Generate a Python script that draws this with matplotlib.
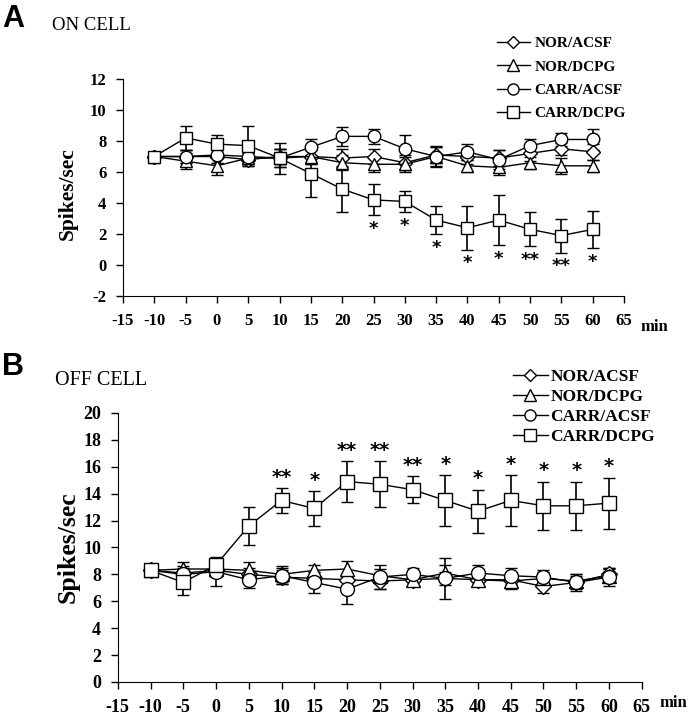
import matplotlib
matplotlib.use("Agg")
import matplotlib.pyplot as plt
from matplotlib.lines import Line2D

plt.rcParams["font.family"] = ["Liberation Serif", "DejaVu Serif"]
plt.rcParams["font.weight"] = "bold"
plt.rcParams["axes.unicode_minus"] = False

# time points (min)
t = [-10, -5, 0, 5, 10, 15, 20, 25, 30, 35, 40, 45, 50, 55, 60]
labels = ["NOR/ACSF", "NOR/DCPG", "CARR/ACSF", "CARR/DCPG"]
markers = ["D", "^", "o", "s"]

# panel A: ON cell
a_nor_acsf = [7.0, 7.0, 7.0, 6.8, 7.0, 7.0, 6.9, 7.0, 6.6, 7.1, 7.0, 6.9, 7.2, 7.5, 7.3]
a_nor_acsf_err = [0.3, 0.4, 0.4, 0.4, 0.5, 0.5, 0.6, 0.5, 0.5, 0.5, 0.5, 0.5, 0.5, 0.4, 0.5]
a_nor_dcpg = [7.0, 6.7, 6.4, 6.9, 6.9, 7.0, 6.6, 6.5, 6.5, 7.0, 6.4, 6.3, 6.6, 6.4, 6.4]
a_nor_dcpg_err = [0.3, 0.5, 0.6, 0.4, 0.6, 0.5, 0.5, 0.5, 0.5, 0.6, 0.4, 0.5, 0.4, 0.5, 0.4]
a_carr_acsf = [7.0, 7.0, 7.1, 7.0, 6.9, 7.6, 8.3, 8.3, 7.5, 7.0, 7.3, 6.8, 7.7, 8.1, 8.1]
a_carr_acsf_err = [0.3, 0.4, 0.5, 0.5, 0.6, 0.5, 0.6, 0.5, 0.9, 0.7, 0.5, 0.6, 0.4, 0.4, 0.7]
a_carr_dcpg = [7.0, 8.2, 7.8, 7.7, 6.9, 5.9, 4.9, 4.2, 4.1, 2.9, 2.4, 2.9, 2.3, 1.9, 2.3]
a_carr_dcpg_err = [0.3, 0.8, 0.6, 1.3, 1.0, 1.5, 1.5, 1.0, 0.7, 0.9, 1.4, 1.6, 1.1, 1.1, 1.2]
a_stars = ["", "", "", "", "", "", "", "*", "*", "*", "*", "*", "**", "**", "*"]

# panel B: OFF cell
b_nor_acsf = [8.3, 8.1, 8.3, 8.0, 7.8, 7.7, 7.6, 7.5, 7.6, 7.7, 7.6, 7.6, 7.1, 7.4, 8.0]
b_nor_acsf_err = [0.4, 0.5, 0.5, 0.5, 0.5, 0.5, 0.5, 0.6, 0.5, 0.5, 0.5, 0.5, 0.5, 0.5, 0.5]
b_nor_dcpg = [8.3, 8.4, 8.4, 8.3, 8.0, 8.3, 8.4, 7.9, 7.6, 8.1, 7.6, 7.5, 7.7, 7.5, 7.9]
b_nor_dcpg_err = [0.4, 0.5, 0.5, 0.6, 0.6, 0.4, 0.6, 0.5, 0.5, 0.6, 0.5, 0.6, 0.5, 0.5, 0.5]
b_carr_acsf = [8.3, 8.0, 8.2, 7.6, 7.9, 7.4, 6.9, 7.8, 8.0, 7.7, 8.1, 7.9, 7.8, 7.4, 7.8]
b_carr_acsf_err = [0.4, 0.5, 1.1, 0.6, 0.6, 0.8, 1.1, 0.9, 0.5, 1.5, 0.6, 0.6, 0.5, 0.6, 0.7]
b_carr_dcpg = [8.3, 7.4, 8.7, 11.6, 13.5, 12.9, 14.9, 14.7, 14.3, 13.5, 12.7, 13.5, 13.1, 13.1, 13.3]
b_carr_dcpg_err = [0.3, 0.9, 0.5, 1.4, 0.9, 1.3, 1.5, 1.7, 1.0, 1.9, 1.6, 1.9, 1.8, 1.8, 1.9]
b_stars = ["", "", "", "", "**", "*", "**", "**", "**", "*", "*", "*", "*", "*", "*"]

xticks = list(range(-15, 70, 5))

fig = plt.figure(figsize=(6.93, 7.19), dpi=100)


def panel(rect, series, errs, stars, ylim, ystep, tick_fs, ylab_fs, ms, below):
    ax = fig.add_axes(rect)
    for vals, err, m, lab in zip(series, errs, markers, labels):
        ax.errorbar(t, vals, yerr=err, fmt="-", marker=m, color="black",
                    mfc="white", mec="black", ms=ms if m != "D" else ms * 0.8,
                    lw=1.0, elinewidth=1.2, capsize=4, capthick=1.2,
                    mew=1.0, label=lab)
    vals, err = series[3], errs[3]
    for x, v, e, s in zip(t, vals, err, stars):
        if not s:
            continue
        if below:
            ax.text(x, v - e - 0.3, s, ha="center", va="top",
                    fontsize=13, family="DejaVu Sans", weight="bold")
        else:
            ax.text(x, v + e + 0.1, s, ha="center", va="bottom",
                    fontsize=14, family="DejaVu Sans", weight="bold")
    ax.set_xlim(-15, 65)
    ax.set_ylim(*ylim)
    ax.set_xticks(xticks)
    ax.set_yticks(range(ylim[0], ylim[1] + 1, ystep))
    ax.spines["top"].set_visible(False)
    ax.spines["right"].set_visible(False)
    ax.tick_params(direction="out", length=5, width=1, labelsize=tick_fs, pad=7)
    for lbl in ax.get_xticklabels() + ax.get_yticklabels():
        lbl.set_fontweight("bold")
    ax.set_ylabel("Spikes/sec", fontsize=ylab_fs, fontweight="bold")
    return ax


axA = panel([0.1775, 0.5883, 0.723, 0.3018],
            [a_nor_acsf, a_nor_dcpg, a_carr_acsf, a_carr_dcpg],
            [a_nor_acsf_err, a_nor_dcpg_err, a_carr_acsf_err, a_carr_dcpg_err],
            a_stars, (-2, 12), 2, 12, 15.5, 9, True)
axA.yaxis.set_label_coords(-0.09, 0.47)
axA.text(1.032, -0.143, "min", transform=axA.transAxes, fontsize=12,
         fontweight="bold", va="center")

axB = panel([0.170, 0.0515, 0.756, 0.3741],
            [b_nor_acsf, b_nor_dcpg, b_carr_acsf, b_carr_dcpg],
            [b_nor_acsf_err, b_nor_dcpg_err, b_carr_acsf_err, b_carr_dcpg_err],
            b_stars, (0, 20), 2, 13, 18.5, 10, False)
axB.yaxis.set_label_coords(-0.0725, 0.5)
axB.text(1.033, -0.078, "min", transform=axB.transAxes, fontsize=12,
         fontweight="bold", va="center")

handles = [Line2D([], [], color="black", lw=1.0, marker=m, mfc="white", mec="black",
                  ms=8 if m != "D" else 6.5) for m in markers]
fig.legend(handles, labels, loc="upper left", bbox_to_anchor=(0.697, 0.968),
           frameon=False, handlelength=2.15, handletextpad=0.3,
           labelspacing=0.63, prop={"weight": "bold", "size": 11})
fig.legend(handles, labels, loc="upper left", bbox_to_anchor=(0.717, 0.509),
           frameon=False, handlelength=2.07, handletextpad=0.12,
           labelspacing=0.22, prop={"weight": "bold", "size": 12.5})

fig.text(0.003, 0.962, "A", fontsize=22, fontweight="bold", family="Liberation Sans")
fig.text(0.003, 0.479, "B", fontsize=22, fontweight="bold", family="Liberation Sans")
fig.text(0.075, 0.965, "ON CELL", fontsize=13.5, fontweight="normal", va="center")
fig.text(0.079, 0.471, "OFF CELL", fontsize=14.5, fontweight="normal", va="center")

fig.savefig("out.png", dpi=100, facecolor="white")
